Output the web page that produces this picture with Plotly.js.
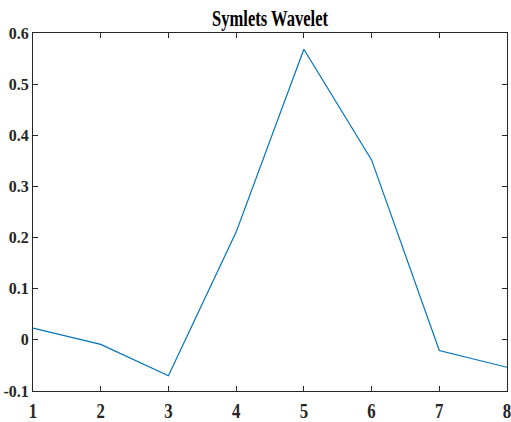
<!DOCTYPE html>
<html>
<head>
<meta charset="utf-8">
<script src="https://cdn.plot.ly/plotly-3.0.1.min.js"></script>
<style>html,body{margin:0;padding:0;background:#fff;}#chart{width:511px;height:422px;}</style>
</head>
<body>
<div id="chart"></div>
<script>
const xValues = [1, 2, 3, 4, 5, 6, 7, 8];
const yValues = [0.0228, -0.0089, -0.0702, 0.2107, 0.5683, 0.3519, -0.0209, -0.0536];
const xTickVals = [1, 2, 3, 4, 5, 6, 7, 8];
const xTickText = ['1', '2', '3', '4', '5', '6', '7', '8'];
const yTickVals = [-0.1, 0, 0.1, 0.2, 0.3, 0.4, 0.5, 0.6];
const yTickText = ['-0.1', '0', '0.1', '0.2', '0.3', '0.4', '0.5', '0.6'];
const titleText = 'Symlets Wavelet';

const fontFam = '"Liberation Serif", "Times New Roman", serif';
const trace = {
  x: xValues, y: yValues, type: 'scatter', mode: 'lines',
  line: {color: '#0072BD', width: 1.2}, hoverinfo: 'skip'
};
const axisCommon = {
  showgrid: false, zeroline: false, showline: true, mirror: 'ticks',
  linecolor: '#262626', linewidth: 1, ticks: 'inside', ticklen: 5,
  tickcolor: '#262626', tickwidth: 1, tickmode: 'array', ticklabeloverflow: 'allow'
};
const layout = {
  width: 511, height: 422,
  margin: {l: 33, r: 4, t: 33, b: 31},
  paper_bgcolor: '#fff', plot_bgcolor: '#fff',
  showlegend: false,
  title: {text: titleText, font: {family: fontFam, size: 23, color: '#000', weight: 'bold'},
          x: 0.5, xanchor: 'center', xref: 'paper', y: 1 - 18/422, yref: 'container', yanchor: 'middle'},
  xaxis: Object.assign({}, axisCommon, {range: [1, 8], tickvals: xTickVals, ticktext: xTickText,
          tickfont: {family: fontFam, size: 21, color: '#262626', weight: 'bold'}, ticklabelstandoff: 1}),
  yaxis: Object.assign({}, axisCommon, {range: [-0.1, 0.6], tickvals: yTickVals, ticktext: yTickText,
          tickfont: {family: fontFam, size: 16, color: '#262626', weight: 'bold'}})
};

function condense(sel, sx) {
  document.querySelectorAll(sel).forEach(function (t) {
    if (t.dataset.cond) return;
    const bb = t.getBBox();
    const cx = bb.x + bb.width / 2;
    const base = t.getAttribute('transform') || '';
    t.setAttribute('transform', base + ' translate(' + cx + ',0) scale(' + sx + ',1) translate(' + (-cx) + ',0)');
    t.dataset.cond = '1';
  });
}

Plotly.newPlot('chart', [trace], layout, {displayModeBar: false, staticPlot: true}).then(function () {
  condense('.gtitle', 0.72);
  condense('.xtick text', 0.8);
});
</script>
</body>
</html>
